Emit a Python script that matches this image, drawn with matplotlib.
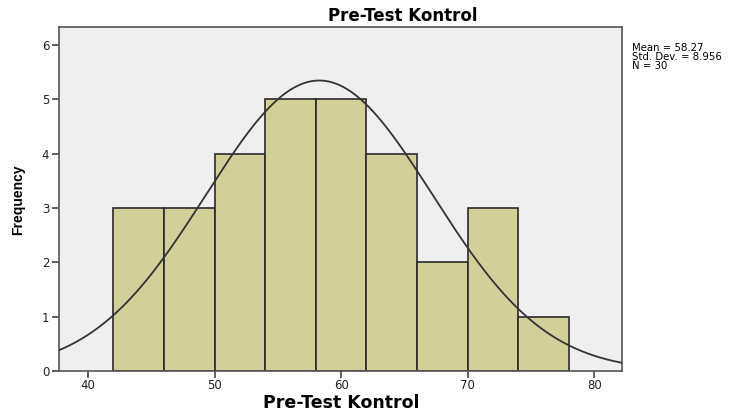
import numpy as np
import matplotlib
matplotlib.use("Agg")
import matplotlib.pyplot as plt

bin_edges = [42, 46, 50, 54, 58, 62, 66, 70, 74, 78]
counts = [3, 3, 4, 5, 5, 4, 2, 3, 1]
mean = 58.27
std = 8.956
n = 30
xticks = [40, 50, 60, 70, 80]
yticks = [0, 1, 2, 3, 4, 5, 6]

plt.rcParams['font.family'] = ['DejaVu Sans']

fig = plt.figure(figsize=(7.45, 4.11), dpi=100)
ax = fig.add_axes([59/745, 40/411, (622-59)/745, (371-27)/411])
ax.set_facecolor('#EFEFEF')

lefts = bin_edges[:-1]
widths = np.diff(bin_edges)
ax.bar(lefts, counts, width=widths, align='edge', color='#D3CF98',
       edgecolor='#2a2a2a', linewidth=1.2, zorder=2)

xmin, xmax = 37.7, 82.2
xs = np.linspace(xmin, xmax, 400)
bw = 4
ys = n * bw / (std * np.sqrt(2 * np.pi)) * np.exp(-0.5 * ((xs - mean) / std) ** 2)
ax.plot(xs, ys, color='#333333', linewidth=1.3, zorder=3)

ax.set_xlim(xmin, xmax)
ax.set_ylim(0, 6.33)
ax.set_xticks(xticks)
ax.set_yticks(yticks)
ax.tick_params(axis='both', direction='out', length=5, width=1.2, color='#444444',
               labelsize=8.5, labelcolor='#222222')
ax.tick_params(axis='x', pad=1)
ax.tick_params(axis='y', pad=2)
for s in ax.spines.values():
    s.set_color('#555555')
    s.set_linewidth(1.2)

fig.text(341/745, 1 - 403/411, 'Pre-Test Kontrol', fontsize=12.5, fontweight='bold',
         ha='center', va='center')
fig.text(18/745, 1 - 200/411, 'Frequency', fontsize=10, fontweight='bold',
         family=['Liberation Sans'], rotation=90, ha='center', va='center')
fig.text(403/745, 1 - 16/411, 'Pre-Test Kontrol', fontsize=12, fontweight='bold',
         ha='center', va='center')
fig.text(632/745, 1 - 43/411, 'Mean = 58.27\nStd. Dev. = 8.956\nN = 30',
         fontsize=7.3, ha='left', va='top', linespacing=0.85)

fig.savefig('out.png', dpi=100)
